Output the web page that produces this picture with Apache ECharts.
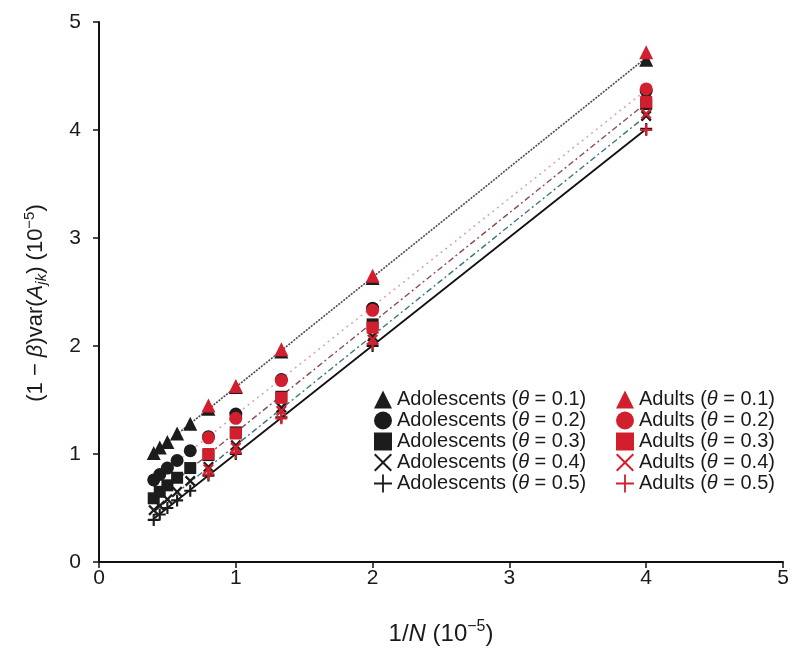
<!DOCTYPE html>
<html><head><meta charset="utf-8">
<script src="https://cdn.jsdelivr.net/npm/echarts@6/dist/echarts.min.js"></script>
<style>html,body{margin:0;padding:0;background:#fff}#c{width:800px;height:665px}</style>
</head><body><div id="c"></div>
<script>
// ---- data ----
const thetas = ['0.1', '0.2', '0.3', '0.4', '0.5'];
const adolX = [0.4, 0.444, 0.5, 0.571, 0.667, 0.8, 1.0, 1.333, 2.0, 4.0];
const adultX = [0.8, 1.0, 1.333, 2.0, 4.0];
const adol01 = [1.01, 1.06, 1.11, 1.19, 1.28, 1.42, 1.62, 1.95, 2.63, 4.65];
const adol02 = [0.76, 0.81, 0.87, 0.94, 1.03, 1.16, 1.37, 1.69, 2.35, 4.36];
const adol03 = [0.59, 0.65, 0.71, 0.78, 0.87, 0.99, 1.20, 1.53, 2.20, 4.24];
const adol04 = [0.48, 0.52, 0.58, 0.65, 0.75, 0.88, 1.08, 1.43, 2.09, 4.13];
const adol05 = [0.39, 0.44, 0.50, 0.57, 0.66, 0.80, 1.00, 1.34, 2.00, 4.01];
const adult01 = [1.45, 1.63, 1.97, 2.65, 4.72];
const adult02 = [1.15, 1.33, 1.68, 2.33, 4.38];
const adult03 = [1.00, 1.19, 1.52, 2.17, 4.26];
const adult04 = [0.86, 1.06, 1.40, 2.06, 4.15];
const adult05 = [0.81, 1.01, 1.33, 2.02, 4.00];
const lineX = [0.4, 4.0];
const fit01 = [1.01, 4.67];
const fit02 = [0.76, 4.37];
const fit03 = [0.59, 4.25];
const fit04 = [0.47, 4.13];
const fit05 = [0.40, 4.01];
const xTicks = [0, 1, 2, 3, 4, 5];
const yTicks = [0, 1, 2, 3, 4, 5];

// ---- styles ----
const FONT = '"Liberation Sans", Arial, Helvetica, sans-serif';
const BLACK = '#1c1c1c';
const RED = '#d21f2e';
const CROSS = 'path://M1.5,0L5,3.5L8.5,0L10,1.5L6.5,5L10,8.5L8.5,10L5,6.5L1.5,10L0,8.5L3.5,5L0,1.5Z';
const PLUS = 'path://M4.1,0H5.9V4.1H10V5.9H5.9V10H4.1V5.9H0V4.1H4.1Z';
const CROSS_THIN = 'path://M0.8,0L5,4.2L9.2,0L10,0.8L5.8,5L10,9.2L9.2,10L5,5.8L0.8,10L0,9.2L4.2,5L0,0.8Z';
const PLUS_THIN = 'path://M4.5,0H5.5V4.5H10V5.5H5.5V10H4.5V5.5H0V4.5H4.5Z';
const symbols = ['triangle', 'circle', 'rect', CROSS, PLUS];
const legendIcons = ['triangle', 'circle', 'rect', CROSS_THIN, PLUS_THIN];
const sizes = [14, 13, 12, 11, 12];
const adolData = [adol01, adol02, adol03, adol04, adol05];
const adultData = [adult01, adult02, adult03, adult04, adult05];
const fits = [fit01, fit02, fit03, fit04, fit05];
const lineStyles = [
  {color: '#4a4a4a', width: 1.6, type: [2, 1.2]},
  {color: '#d9a7af', width: 1.6, type: [2, 4]},
  {color: '#8c4a57', width: 1.4, type: [6, 3, 2, 3]},
  {color: '#3d7482', width: 1.4, type: [6, 3, 2, 3]},
  {color: '#111111', width: 1.8, type: 'solid'}
];

const pair = (xs, ys) => xs.map((x, i) => [x, ys[i]]);
const series = [];
thetas.forEach((t, k) => {
  series.push({
    type: 'line', name: 'fit' + t, data: pair(lineX, fits[k]), symbol: 'none',
    lineStyle: lineStyles[k], silent: true, z: 1
  });
});
thetas.forEach((t, k) => {
  series.push({
    type: 'scatter', name: 'Adolescents (θ = ' + t + ')', data: pair(adolX, adolData[k]),
    symbol: symbols[k], symbolSize: sizes[k], itemStyle: {color: BLACK, opacity: 1}, z: 2
  });
});
thetas.forEach((t, k) => {
  series.push({
    type: 'scatter', name: 'Adults (θ = ' + t + ')', data: pair(adultX, adultData[k]),
    symbol: symbols[k], symbolSize: sizes[k], itemStyle: {color: RED, opacity: 1}, z: 3
  });
});

const TXT = '#1a1a1a';
const legendText = {
  fontSize: 20, fontFamily: FONT, color: TXT, lineHeight: 21,
  rich: {i: {fontStyle: 'italic', fontSize: 20, fontFamily: FONT, color: TXT}}
};
const legendFmt = n => n.replace('θ', '{i|θ}');
const axisLineStyle = {color: '#111', width: 2};

const chart = echarts.init(document.getElementById('c'));
chart.setOption({
  animation: false,
  backgroundColor: '#fff',
  grid: {left: 99, right: 17, top: 22, bottom: 103, containLabel: false},
  xAxis: {
    type: 'value', min: xTicks[0], max: xTicks[xTicks.length - 1], interval: 1,
    splitLine: {show: false},
    axisLine: {show: true, onZero: false, lineStyle: axisLineStyle},
    axisTick: {show: true, length: 6, lineStyle: {color: '#111', width: 1.5}},
    axisLabel: {fontSize: 21, fontFamily: FONT, color: TXT, margin: 6},
    name: '1/{i|N} (10{sup|−5})', nameLocation: 'middle', nameGap: 57,
    nameTextStyle: {
      fontSize: 24, fontFamily: FONT, color: TXT,
      rich: {
        i: {fontStyle: 'italic', fontSize: 24, fontFamily: FONT, color: TXT},
        sup: {fontSize: 16, fontFamily: FONT, color: TXT, padding: [0, 0, 14, 0]}
      }
    }
  },
  yAxis: {
    type: 'value', min: yTicks[0], max: yTicks[yTicks.length - 1], interval: 1,
    splitLine: {show: false},
    axisLine: {show: true, onZero: false, lineStyle: axisLineStyle},
    axisTick: {show: true, length: 6, lineStyle: {color: '#111', width: 1.5}},
    axisLabel: {fontSize: 21, fontFamily: FONT, color: TXT, margin: 18},
    name: '(1 − {i|β})var({i|A}{sub|jk}) (10{sup|−5})', nameLocation: 'middle', nameGap: 49, nameRotate: 90,
    nameTextStyle: {
      fontSize: 22, fontFamily: FONT, color: TXT, padding: [0, 22, 0, 0],
      rich: {
        i: {fontStyle: 'italic', fontSize: 22, fontFamily: FONT, color: TXT},
        sub: {fontStyle: 'italic', fontSize: 15, fontFamily: FONT, color: TXT, padding: [11, 0, 0, 0]},
        sup: {fontSize: 15, fontFamily: FONT, color: TXT, padding: [0, 0, 13, 0]}
      }
    }
  },
  legend: [
    {
      orient: 'vertical', left: 374, top: 389, padding: 0, itemGap: 0,
      itemWidth: 18, itemHeight: 18, itemTextGap: 8, selectedMode: false,
      data: thetas.map((t, k) => ({name: 'Adolescents (θ = ' + t + ')', icon: legendIcons[k], itemStyle: {color: BLACK}})),
      formatter: legendFmt, textStyle: legendText
    },
    {
      orient: 'vertical', left: 616, top: 389, padding: 0, itemGap: 0,
      itemWidth: 18, itemHeight: 18, itemTextGap: 13, selectedMode: false,
      data: thetas.map((t, k) => ({name: 'Adults (θ = ' + t + ')', icon: legendIcons[k], itemStyle: {color: RED}})),
      formatter: legendFmt, textStyle: legendText
    }
  ],
  series: series
});
</script>
</body></html>
